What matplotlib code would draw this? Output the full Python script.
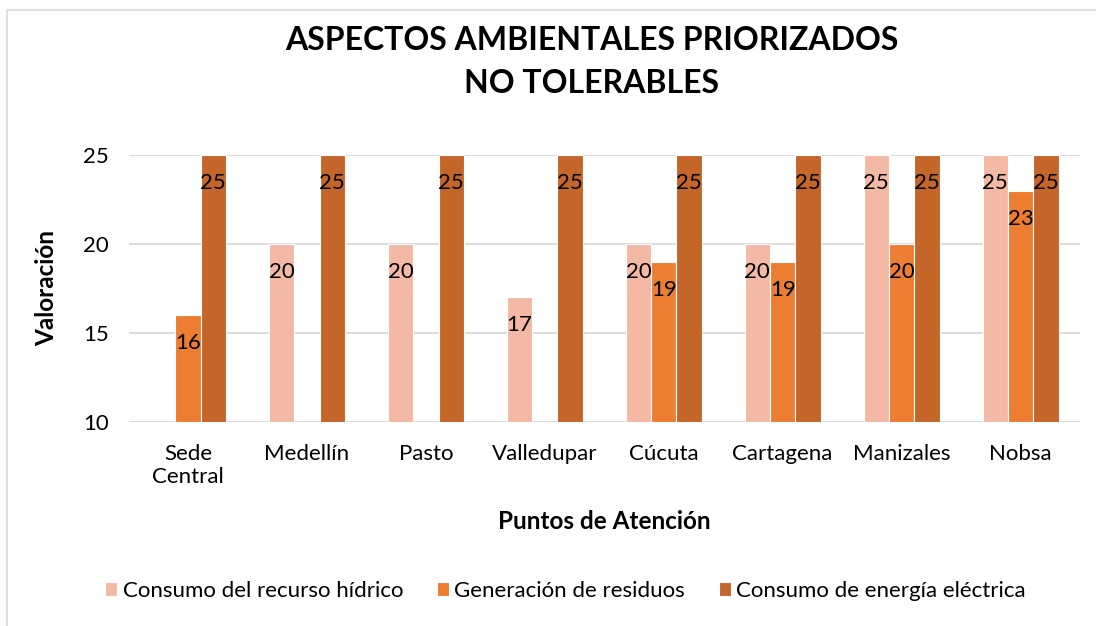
import numpy as np
import matplotlib.pyplot as plt
from matplotlib.patches import Rectangle

plt.rcParams['font.family'] = ['Lato', 'DejaVu Sans']

puntos = ["Sede\nCentral", "Medellín", "Pasto", "Valledupar", "Cúcuta",
          "Cartagena", "Manizales", "Nobsa"]
hidrico = [np.nan, 20, 20, 17, 20, 20, 25, 25]
residuos = [16, np.nan, np.nan, np.nan, 19, 19, 20, 23]
energia = [25, 25, 25, 25, 25, 25, 25, 25]

series = [
    ("Consumo del recurso hídrico", hidrico, "#F4B9A5"),
    ("Generación de residuos", residuos, "#ED7D31"),
    ("Consumo de energía eléctrica", energia, "#C4652A"),
]

fig = plt.figure(figsize=(10.96, 6.26), dpi=100)
ax = fig.add_axes([0.1173, 0.3259, 0.8681, 0.4265])

x = np.arange(len(puntos))
w = 0.213
for i, (name, vals, col) in enumerate(series):
    pos = x + (i - 1) * w
    ax.bar(pos, vals, w, color=col, edgecolor='white', linewidth=0.8,
           label=name, zorder=2)
    for px, v in zip(pos, vals):
        if np.isnan(v):
            continue
        ax.annotate(f"{v:g}", xy=(px, v), xytext=(0, -28),
                    textcoords='offset pixels', ha='center', va='center',
                    fontsize=16, color='black', zorder=3)

ax.set_ylim(10, 25)
ax.set_xlim(-0.5, len(puntos) - 0.5)
ax.set_yticks([10, 15, 20, 25])
ax.set_xticks(x)
ax.set_xticklabels(puntos)
ax.tick_params(axis='x', length=0, labelsize=16, pad=16)
ax.tick_params(axis='y', length=0, labelsize=16, pad=14)
ax.grid(axis='y', color='#D9D9D9', linewidth=1.3, zorder=0)
ax.set_axisbelow(True)
for s in ax.spines.values():
    s.set_visible(False)

ax.set_ylabel("Valoración", fontsize=17.5, fontweight='bold', labelpad=18)
ax.set_xlabel("Puntos de Atención", fontsize=17.5, fontweight='bold', labelpad=16)

fig.text(0.54, 0.901, "ASPECTOS AMBIENTALES PRIORIZADOS\nNO TOLERABLES",
         ha='center', va='center', fontsize=23, fontweight='bold',
         linespacing=1.55)

fig.legend(loc='center', bbox_to_anchor=(0.516, 1 - 591 / 626), ncol=3,
           frameon=False, fontsize=16, handlelength=0.55, handleheight=0.55,
           handletextpad=0.25, columnspacing=1.5)

fig.patches.append(Rectangle((7 / 1096, -0.1), 1.2, 1.1 - 10 / 626,
                             transform=fig.transFigure, fill=False,
                             edgecolor='#D9D9D9', linewidth=1.2))

fig.savefig("out.png", dpi=100)
